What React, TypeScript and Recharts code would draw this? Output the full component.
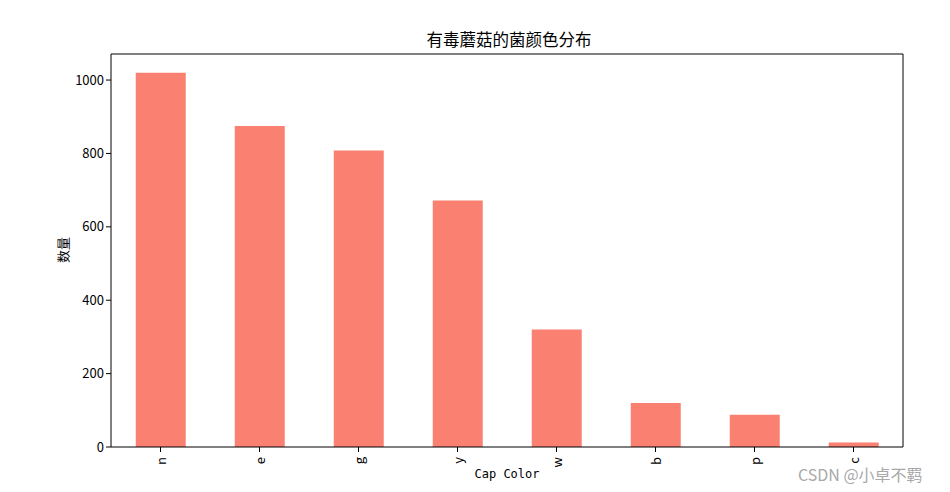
import { BarChart, Bar, XAxis, YAxis } from "recharts";

const capColors = ["n", "e", "g", "y", "w", "b", "p", "c"];
const counts = [1020, 875, 808, 672, 320, 120, 88, 12];
const yTicks = [0, 200, 400, 600, 800, 1000];

const data = capColors.map((c, i) => ({ color: c, count: counts[i] }));

const FONT = '"Noto Sans CJK SC", "DejaVu Sans", sans-serif';

function RotatedTick(props: any) {
  const { x, y, payload } = props;
  return (
    <text
      x={x}
      y={y + 3}
      transform={`rotate(-90 ${x} ${y + 3})`}
      textAnchor="end"
      dominantBaseline="central"
      fontSize={13}
      fontFamily={FONT}
      fill="#000"
    >
      {payload.value}
    </text>
  );
}

export default function App() {
  return (
    <div style={{ position: "absolute", left: 0, top: 0, width: 950, height: 492, background: "#fff" }}>
      <BarChart
        width={950}
        height={492}
        data={data}
        margin={{ top: 53, right: 46, bottom: 5, left: 51 }}
        barCategoryGap="25%"
      >
        <XAxis
          dataKey="color"
          xAxisId="main"
          stroke="#000"
          tickSize={5}
          interval={0}
          tick={<RotatedTick />}
          height={40}
          label={{
            content: () => (
              <text x={507} y={478} textAnchor="middle" fontSize={12} fontFamily='"DejaVu Sans Mono", monospace' fill="#000">
                Cap Color
              </text>
            ),
          }}
        />
        <XAxis
          xAxisId="top"
          orientation="top"
          dataKey="color"
          stroke="#000"
          tick={false}
          tickLine={false}
          height={1}
          label={{
            content: () => (
              <text x={509} y={46} textAnchor="middle" fontSize={16.5} fontFamily={FONT} fill="#000">
                有毒蘑菇的菌颜色分布
              </text>
            ),
          }}
        />
        <YAxis
          yAxisId="left"
          domain={[0, 1071]}
          ticks={yTicks}
          stroke="#000"
          tickSize={5}
          width={60}
          tick={{ fontSize: 13, fontFamily: FONT, fill: "#000" }}
          label={{
            content: () => (
              <text x={62} y={250} transform="rotate(-90 62 250)" textAnchor="middle" dominantBaseline="central" fontSize={13} fontFamily={FONT} fill="#000">
                数量
              </text>
            ),
          }}
        />
        <YAxis yAxisId="right" orientation="right" domain={[0, 1071]} stroke="#000" tick={false} tickLine={false} width={1} />
        <Bar dataKey="count" xAxisId="main" yAxisId="left" fill="#FA8072" isAnimationActive={false} />
      </BarChart>
      <div
        style={{
          position: "absolute",
          left: 798,
          top: 462,
          fontSize: 16,
          fontFamily: FONT,
          color: "#a8a8a8",
          whiteSpace: "nowrap",
        }}
      >
        CSDN @小卓不羁
      </div>
    </div>
  );
}
